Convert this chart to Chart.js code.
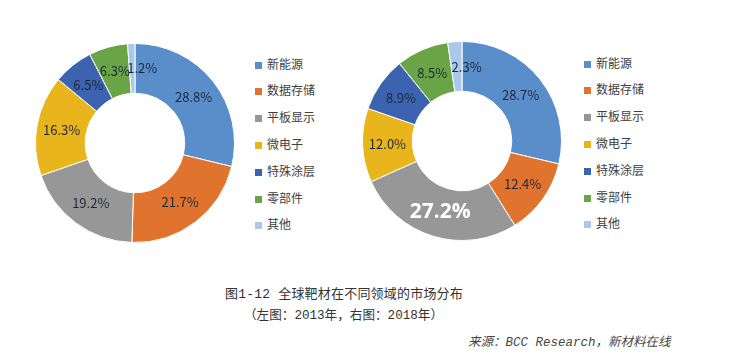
<!DOCTYPE html>
<html lang="zh">
<head>
<meta charset="UTF-8">
<title>全球靶材在不同领域的市场分布</title>
<script src="https://cdn.jsdelivr.net/npm/chart.js"></script>
<style>
  body { margin: 0; width: 756px; height: 362px; background: #fff; position: relative; overflow: hidden;
         font-family: "Noto Sans CJK SC", sans-serif; }
  .pie { position: absolute; }
  .legend { position: absolute; list-style: none; margin: 0; padding: 0; font-size: 12px; color: #404040; }
  .legend li { height: 26.8px; line-height: 26.8px; white-space: nowrap; }
  .legend span { display: inline-block; width: 7px; height: 7px; margin-right: 5px; vertical-align: 0px; }
  .cap { position: absolute; color: #333; white-space: nowrap; font-family: "Liberation Mono", "Noto Sans CJK SC", monospace; }
</style>
</head>
<body>
<canvas id="pie2013" class="pie" width="200" height="200" style="left:35px;top:43px"></canvas>
<ul id="legend2013" class="legend" style="left:255px;top:50.6px"></ul>
<canvas id="pie2018" class="pie" width="200" height="200" style="left:362px;top:41px"></canvas>
<ul id="legend2018" class="legend" style="left:584px;top:49.6px"></ul>

<div class="cap" style="left:225px;top:283px;font-size:13px;letter-spacing:0.2px">图1-12 全球靶材在不同领域的市场分布</div>
<div class="cap" style="left:244px;top:304px;font-size:12.6px">（左图：2013年，右图：2018年）</div>
<div class="cap" style="left:468px;top:331px;font-size:12.5px;font-style:italic;color:#444">来源：BCC Research，新材料在线</div>

<script>
  // 领域
  const categories = ['新能源', '数据存储', '平板显示', '微电子', '特殊涂层', '零部件', '其他'];
  // 占比 (%)
  const share2013 = [28.8, 21.7, 19.2, 16.3, 6.5, 6.3, 1.2];
  const share2018 = [28.7, 12.4, 27.2, 12.0, 8.9, 8.5, 2.3];
  const colors = ['#5a8ecb', '#e0732d', '#979797', '#e9b51c', '#3c63b0', '#69a446', '#a8c9ea'];

  // 在每个扇区中间写百分比
  const sliceLabels = {
    id: 'sliceLabels',
    afterDatasetsDraw(chart, args, opts) {
      const ctx = chart.ctx;
      const meta = chart.getDatasetMeta(0);
      const values = chart.data.datasets[0].data;
      ctx.save();
      ctx.textAlign = 'center';
      ctx.textBaseline = 'middle';
      meta.data.forEach((arc, i) => {
        const p = arc.tooltipPosition();
        let x = p.x;
        if (values[i] < 3) x += 10; // 小扇区标签稍微右移
        if (i === opts.highlight) {
          ctx.fillStyle = '#fff';
          ctx.font = 'bold 21px "Open Sans", "Noto Sans", sans-serif';
        } else {
          ctx.fillStyle = '#1e2838';
          ctx.font = '13px "Noto Sans CJK SC", sans-serif';
        }
        ctx.fillText(values[i].toFixed(1) + '%', x, p.y);
      });
      ctx.restore();
    }
  };

  function drawPie(id, values, highlight) {
    new Chart(document.getElementById(id), {
      type: 'doughnut',
      data: {
        labels: categories,
        datasets: [{
          data: values,
          backgroundColor: colors,
          borderColor: '#fff',
          borderWidth: 1,
          hoverOffset: 0
        }]
      },
      options: {
        responsive: false,
        animation: false,
        cutout: '50%',
        events: [],
        plugins: {
          legend: { display: false },
          tooltip: { enabled: false },
          sliceLabels: { highlight: highlight }
        }
      },
      plugins: [sliceLabels]
    });
  }

  function buildLegend(id) {
    const ul = document.getElementById(id);
    categories.forEach((c, i) => {
      const li = document.createElement('li');
      li.innerHTML = '<span style="background:' + colors[i] + '"></span>' + c;
      ul.appendChild(li);
    });
  }

  drawPie('pie2013', share2013, -1);
  drawPie('pie2018', share2018, 2);
  buildLegend('legend2013');
  buildLegend('legend2018');
</script>
</body>
</html>
